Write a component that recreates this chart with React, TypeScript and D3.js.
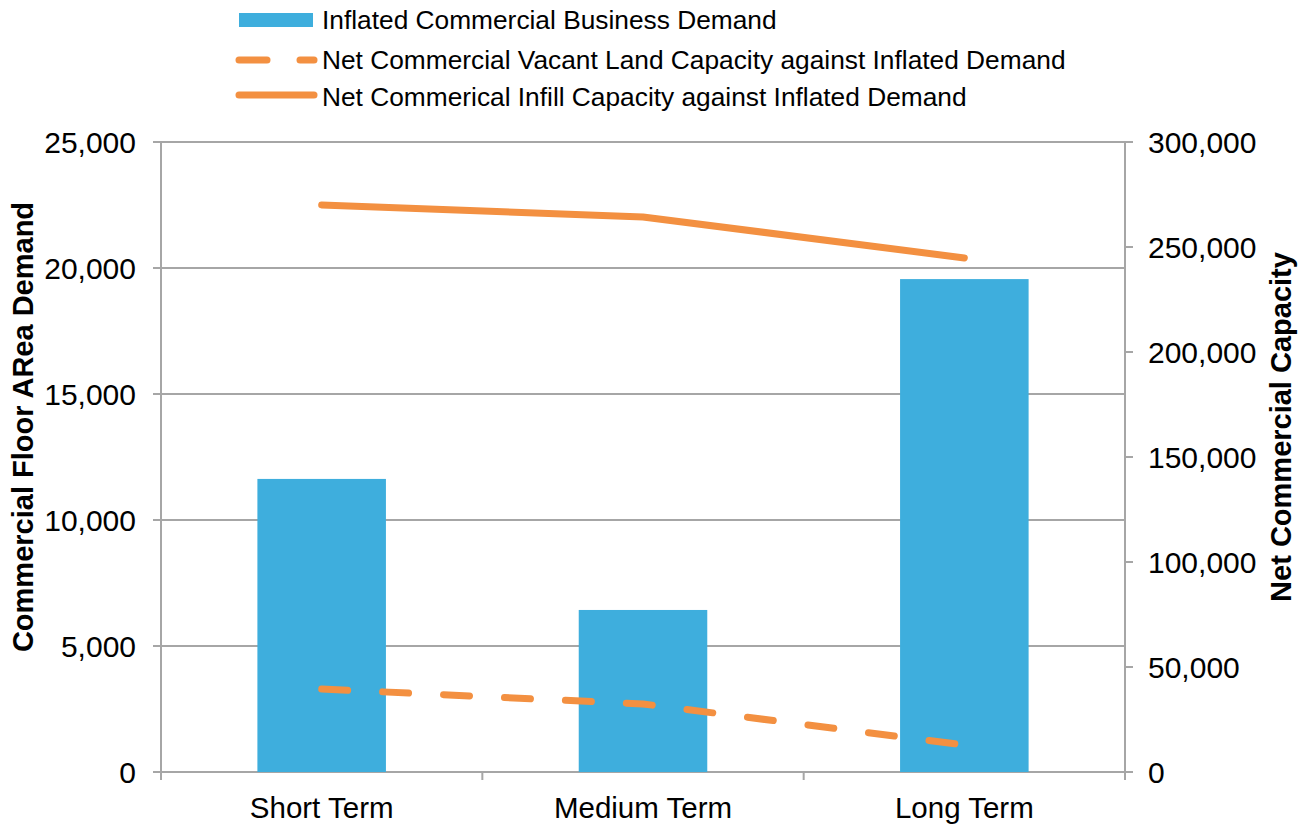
import React from "react";
import * as d3 from "d3";

const categories = ["Short Term", "Medium Term", "Long Term"];
const demand = [11630, 6430, 19560];
const vacantCapacity = [39500, 32400, 12900];
const infillCapacity = [270000, 264300, 244800];
const leftTicks = [0, 5000, 10000, 15000, 20000, 25000];
const rightTicks = [0, 50000, 100000, 150000, 200000, 250000, 300000];
const seriesNames = [
  "Inflated Commercial Business Demand",
  "Net Commercial Vacant Land Capacity against Inflated Demand",
  "Net Commerical Infill Capacity against Inflated Demand",
];

const W = 1311, H = 826;
const left = 161, right = 1125, top = 142, bottom = 772;
const BLUE = "#3eaedd";
const ORANGE = "#f39041";
const GRID = "#a6a6a6";
const FONT = "'Liberation Sans', Arial, Helvetica, sans-serif";

export default function App() {
  const x = d3.scaleBand<string>().domain(categories).range([left, right]).paddingInner(0).paddingOuter(0);
  const yL = d3.scaleLinear().domain([0, 25000]).range([bottom, top]);
  const yR = d3.scaleLinear().domain([0, 300000]).range([bottom, top]);
  const fmt = d3.format(",");
  const bw = x.bandwidth() * 0.4;
  const cx = (c: string) => (x(c) as number) + x.bandwidth() / 2;

  const line = d3.line<number>().x((_, i) => cx(categories[i])).y((d) => yR(d));

  return (
    <svg width={W} height={H} style={{ position: "absolute", left: 0, top: 0, background: "#fff" }}>
      {leftTicks.map((t) => (
        <line key={"g" + t} x1={left - 8} x2={right} y1={yL(t)} y2={yL(t)} stroke={GRID} strokeWidth={2} />
      ))}
      {categories.map((c, i) => (
        <rect key={c} x={cx(c) - bw / 2} y={yL(demand[i])} width={bw} height={bottom - yL(demand[i])} fill={BLUE} />
      ))}
      <line x1={left} x2={left} y1={top} y2={bottom} stroke={GRID} strokeWidth={2} />
      <line x1={right} x2={right} y1={top} y2={bottom + 8} stroke={GRID} strokeWidth={2} />
      {rightTicks.map((t) => (
        <line key={"rt" + t} x1={right} x2={right + 8} y1={yR(t)} y2={yR(t)} stroke={GRID} strokeWidth={2} />
      ))}
      {[0, 1, 2, 3].map((i) => (
        <line key={"bt" + i} x1={left + i * x.bandwidth()} x2={left + i * x.bandwidth()} y1={bottom} y2={bottom + 8} stroke={GRID} strokeWidth={2} />
      ))}
      <path d={line(infillCapacity) || ""} fill="none" stroke={ORANGE} strokeWidth={7} strokeLinecap="round" strokeLinejoin="round" />
      <path d={line(vacantCapacity) || ""} fill="none" stroke={ORANGE} strokeWidth={7} strokeLinecap="round" strokeLinejoin="round" strokeDasharray="26 35" />
      {leftTicks.map((t) => (
        <text key={"lt" + t} x={136} y={yL(t)} dy="0.35em" textAnchor="end" fontFamily={FONT} fontSize={30} fill="#000">
          {fmt(t)}
        </text>
      ))}
      {rightTicks.map((t) => (
        <text key={"rl" + t} x={1148} y={yR(t)} dy="0.35em" textAnchor="start" fontFamily={FONT} fontSize={30} fill="#000">
          {fmt(t)}
        </text>
      ))}
      {categories.map((c) => (
        <text key={"cl" + c} x={cx(c)} y={818} textAnchor="middle" fontFamily={FONT} fontSize={29.5} fill="#000">
          {c}
        </text>
      ))}
      <text transform={`translate(33, 427) rotate(-90)`} textAnchor="middle" fontFamily={FONT} fontSize={29} fontWeight="bold" fill="#000">
        Commercial Floor ARea Demand
      </text>
      <text transform={`translate(1291, 427) rotate(-90)`} textAnchor="middle" fontFamily={FONT} fontSize={29} fontWeight="bold" fill="#000">
        Net Commercial Capacity
      </text>
      <rect x={239} y={13} width={74} height={14} fill={BLUE} />
      <line x1={239} x2={267} y1={60} y2={60} stroke={ORANGE} strokeWidth={7} strokeLinecap="round" />
      <line x1={300} x2={314} y1={60} y2={60} stroke={ORANGE} strokeWidth={7} strokeLinecap="round" />
      <line x1={239} x2={314} y1={95} y2={95} stroke={ORANGE} strokeWidth={7} strokeLinecap="round" />
      {seriesNames.map((n, i) => (
        <text key={n} x={322} y={[20, 60, 97][i]} dy="0.35em" fontFamily={FONT} fontSize={26.3} fill="#000">
          {n}
        </text>
      ))}
    </svg>
  );
}
